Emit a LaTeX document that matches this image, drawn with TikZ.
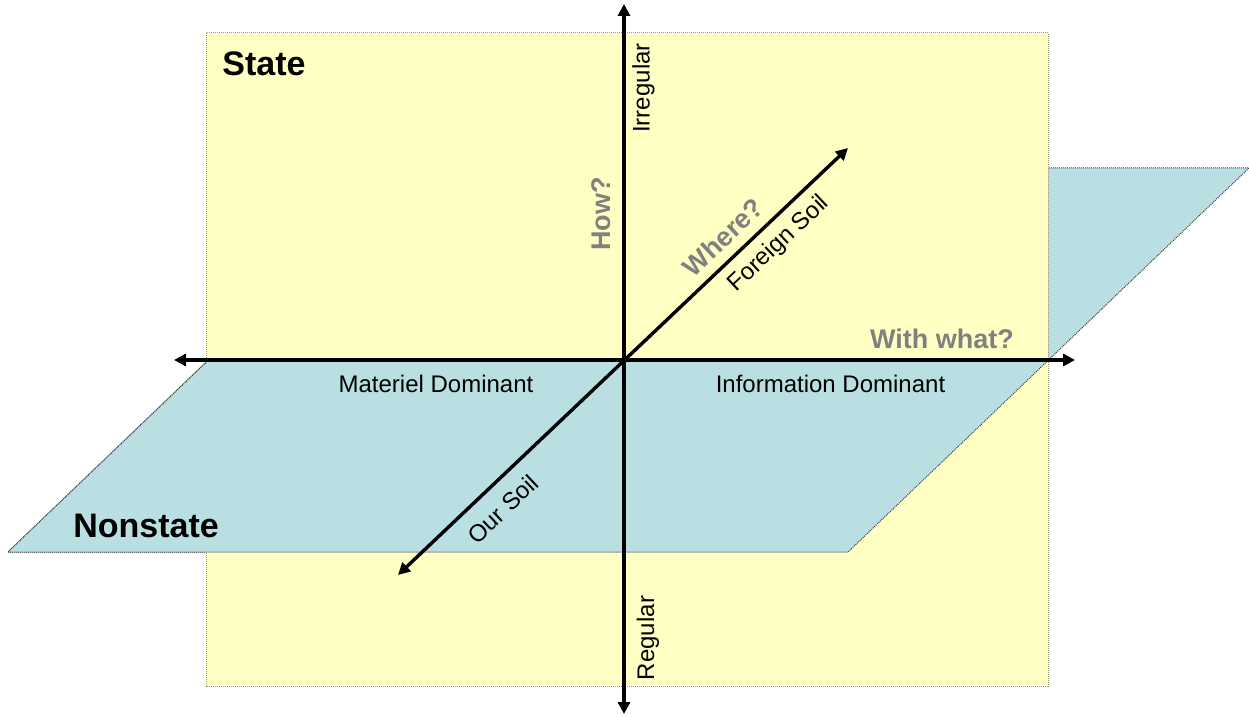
\documentclass[tikz,border=0pt]{standalone}
\usepackage{fontspec}
\setmainfont{Liberation Sans}
\usetikzlibrary{arrows.meta}
\definecolor{planeY}{HTML}{FFFFC4}
\definecolor{planeB}{HTML}{B9DFE2}
\definecolor{qgray}{HTML}{808080}
\definecolor{ybord}{HTML}{9A9A80}
\definecolor{bbord}{HTML}{404040}
\begin{document}
\begin{tikzpicture}[x=0.5pt,y=-0.5pt,
  axis/.style={line width=1.7pt, arrows={Triangle[length=6pt,width=6pt]-Triangle[length=6pt,width=6pt]}},
  ybox/.style={fill=planeY, draw=ybord, line width=0.5pt, dash pattern=on 0.5pt off 0.5pt},
  bplane/.style={fill=planeB, draw=bbord, line width=0.5pt, dash pattern=on 0.5pt off 0.5pt},
  lbl/.style={inner sep=0pt, font=\fontsize{12pt}{14pt}\selectfont},
  qlbl/.style={inner sep=0pt, text=qgray, font=\fontsize{13.5pt}{16pt}\selectfont\bfseries},
  ttl/.style={inner sep=0pt, font=\fontsize{17pt}{20pt}\selectfont\bfseries}]
\useasboundingbox (0,0) rectangle (1249,717);
% planes
\coordinate (b1) at (8,552);
\coordinate (b2) at (848,552);
\coordinate (b3) at (1249,168);
\coordinate (b4) at (409,168);
\coordinate (bl) at (208.5,360);
\coordinate (br) at (1048.5,360);
\path[bplane] (b1) -- (b2) -- (b3) -- (b4) -- cycle;
\path[ybox] (206,33) rectangle (1048,686);
\fill[planeB] (bl) -- (br) -- (b2) -- (b1) -- cycle;
\draw[draw=bbord, line width=0.5pt, dash pattern=on 0.5pt off 0.5pt] (bl) -- (b1) -- (b2) -- (br);
% axes
\coordinate (O) at (624,360);
\coordinate (top) at (624,4);
\coordinate (bot) at (624,714);
\coordinate (lft) at (174,360);
\coordinate (rgt) at (1075,360);
\coordinate (fsoil) at (848,148);
\coordinate (osoil) at (398,575);
\draw[axis] (lft) -- (rgt);
\draw[axis] (osoil) -- (fsoil);
\draw[axis] (bot) -- (top);
% labels
\node[ttl, anchor=base west] (st) at (222,76) {State};
\node[ttl, anchor=base west] (ns) at (73,537) {Nonstate};
\node[lbl] (md) at (436,384) {Materiel Dominant};
\node[lbl] (id) at (830.5,384) {Information Dominant};
\node[lbl, rotate=90] (irr) at (643.5,88) {Irregular};
\node[lbl, rotate=90] (reg) at (648,638) {Regular};
\node[lbl, rotate=43.4] (fs) at (779,244) {Foreign Soil};
\node[lbl, rotate=43.4] (ous) at (503,509) {Our Soil};
\node[qlbl, rotate=90] (how) at (601,214) {How?};
\node[qlbl, rotate=43.4] (where) at (723,237) {Where?};
\node[qlbl] (ww) at (942,339) {With what?};
\end{tikzpicture}
\end{document}
